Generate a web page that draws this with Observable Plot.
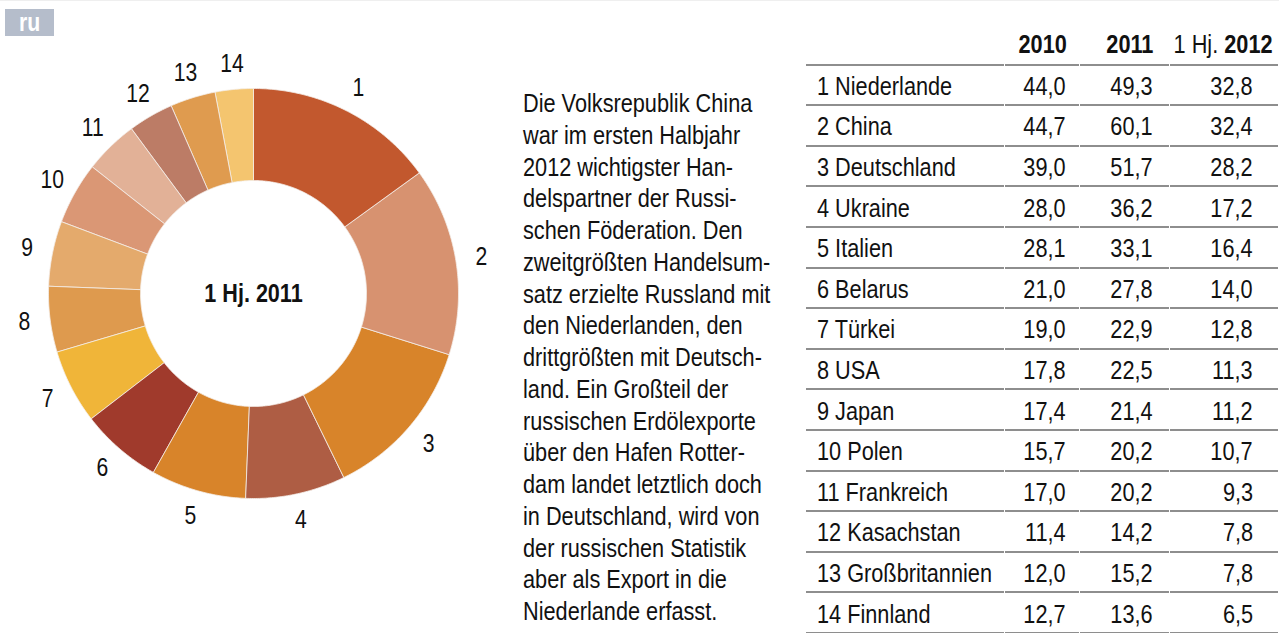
<!DOCTYPE html>
<html>
<head>
<meta charset="utf-8">
<script src="https://cdn.jsdelivr.net/npm/d3@7"></script>
<script src="https://cdn.jsdelivr.net/npm/@observablehq/plot@0.6"></script>
<style>
  html, body { margin: 0; padding: 0; background: #fff; overflow: hidden; }
  #page { position: relative; width: 1279px; height: 633px; overflow: hidden;
    font-family: "Liberation Sans", Arial, sans-serif; color: #111; }
  #topline { position: absolute; left: 0; top: 0; width: 1279px; height: 1px; background: #efefef; }
  #badge { position: absolute; left: 5px; top: 9px; width: 49px; height: 27px; background: #b5bdcb;
    color: #fff; font-weight: bold; font-size: 25px; line-height: 27px; text-align: center; }
  #badge span { display: inline-block; transform: scaleX(0.85); }
  #chart { position: absolute; left: 0; top: 0; }
  #para { position: absolute; left: 523px; top: 88px; font-size: 26px; line-height: 31.75px; white-space: nowrap;
    transform: scaleX(0.835); transform-origin: left top; }
  #table { position: absolute; left: 806px; top: 25px; width: 473px; font-size: 26px; white-space: nowrap; }
  .row { display: flex; height: 40.6px; }
  .cell { flex: none; box-sizing: border-box; height: 40.6px; border-bottom: 2px solid #8e8e8e; margin-right: 1px;
    display: flex; align-items: center; padding-top: 3px; }
  .cell span { display: inline-block; transform: scaleX(0.835); transform-origin: right center; flex: none; }
  .c0 span { transform-origin: left center; }
  .c0 { width: 198px; padding-left: 11px; }
  .c1 { width: 74px; justify-content: flex-end; padding-right: 13px; }
  .c2 { width: 89px; justify-content: flex-end; padding-right: 16px; }
  .c3 { width: 108px; justify-content: flex-end; padding-right: 25px; margin-right: 0; }
  .hdr .cell { padding-top: 0; }
  .hdr .c1 { padding-right: 12px; }
  .hdr .c2 { padding-right: 16px; }
  .hdr .c3 { padding-right: 5px; }
</style>
</head>
<body>
<div id="page">
  <div id="topline"></div>
  <div id="chart"></div>
  <div id="badge"><span>ru</span></div>
  <div id="para"></div>
  <div id="table"></div>
</div>
<script>
// ---- data ----
const countries = ["Niederlande", "China", "Deutschland", "Ukraine", "Italien", "Belarus", "Türkei",
  "USA", "Japan", "Polen", "Frankreich", "Kasachstan", "Großbritannien", "Finnland"];
const values2010 = [44.0, 44.7, 39.0, 28.0, 28.1, 21.0, 19.0, 17.8, 17.4, 15.7, 17.0, 11.4, 12.0, 12.7];
const values2011 = [49.3, 60.1, 51.7, 36.2, 33.1, 27.8, 22.9, 22.5, 21.4, 20.2, 20.2, 14.2, 15.2, 13.6];
const valuesH2012 = [32.8, 32.4, 28.2, 17.2, 16.4, 14.0, 12.8, 11.3, 11.2, 10.7, 9.3, 7.8, 7.8, 6.5];
const sliceColors = ["#c2582e", "#d79270", "#d8842a", "#ae5d44", "#d8842a", "#a03a2c", "#f0b539",
  "#de9a4e", "#e4aa6c", "#da9775", "#e2b197", "#bc7c66", "#df9b4f", "#f4c56f"];
const centerLabel = "1 Hj. 2011";
const headerYears = ["2010", "2011", "2012"];
const headerPrefix = "1 Hj.";
const paragraphLines = [
  "Die Volksrepublik China",
  "war im ersten Halbjahr",
  "2012 wichtigster Han-",
  "delspartner der Russi-",
  "schen Föderation. Den",
  "zweitgrößten Handelsum-",
  "satz erzielte Russland mit",
  "den Niederlanden, den",
  "drittgrößten mit Deutsch-",
  "land. Ein Großteil der",
  "russischen Erdölexporte",
  "über den Hafen Rotter-",
  "dam landet letztlich doch",
  "in Deutschland, wird von",
  "der russischen Statistik",
  "aber als Export in die",
  "Niederlande erfasst."
];

// ---- donut geometry (data space, y up, centre at 0,0) ----
const R_OUT = 205, R_IN = 113, R_LABEL = 231;
const names = countries.map((c, i) => `${i + 1} ${c}`);
const arcs = d3.pie().sort(null).value(d => d)(valuesH2012);
const polyPoints = [];
arcs.forEach((a, i) => {
  const n = Math.max(4, Math.ceil((a.endAngle - a.startAngle) / 0.01));
  for (let k = 0; k <= n; k++) {
    const t = a.startAngle + (a.endAngle - a.startAngle) * k / n;
    polyPoints.push({name: names[i], x: R_OUT * Math.sin(t), y: R_OUT * Math.cos(t)});
  }
  for (let k = n; k >= 0; k--) {
    const t = a.startAngle + (a.endAngle - a.startAngle) * k / n;
    polyPoints.push({name: names[i], x: R_IN * Math.sin(t), y: R_IN * Math.cos(t)});
  }
});
const labelPoints = arcs.map((a, i) => {
  const m = (a.startAngle + a.endAngle) / 2;
  return {label: String(i + 1), x: R_LABEL * Math.sin(m), y: R_LABEL * Math.cos(m)};
});

const chart = Plot.plot({
  width: 510,
  height: 633,
  margin: 0,
  x: {domain: [-253, 257], axis: null},
  y: {domain: [-340, 293], axis: null},
  color: {domain: names, range: sliceColors},
  style: {fontFamily: '"Liberation Sans", Arial, sans-serif', color: "#111", background: "transparent"},
  marks: [
    Plot.line(polyPoints, {x: "x", y: "y", z: "name", fill: "name", stroke: "#f4eee8", strokeWidth: 0.8, curve: "linear-closed"}),
    Plot.text(labelPoints, {x: "x", y: "y", text: "label", fontSize: 25.5, textAnchor: "middle", lineAnchor: "middle", fill: "#111"}),
    Plot.text([centerLabel], {x: 0, y: 0, text: d => d, fontSize: 26, fontWeight: "bold", textAnchor: "middle", lineAnchor: "middle", fill: "#111"})
  ]
});
// condensed look: squeeze text glyphs horizontally about their anchor
d3.select(chart).selectAll("text").each(function () {
  const t = this.getAttribute("transform");
  if (t && t.includes("translate")) this.setAttribute("transform", t + " scale(0.83,1)");
});
document.getElementById("chart").appendChild(chart);

// ---- paragraph ----
document.getElementById("para").innerHTML = paragraphLines.join("<br>");

// ---- table ----
const fmt = v => v.toFixed(1).replace(".", ",");
let html = `<div class="row hdr"><div class="cell c0"></div>` +
  `<div class="cell c1"><span><b>${headerYears[0]}</b></span></div>` +
  `<div class="cell c2"><span><b>${headerYears[1]}</b></span></div>` +
  `<div class="cell c3"><span>${headerPrefix} <b>${headerYears[2]}</b></span></div></div>`;
countries.forEach((c, i) => {
  html += `<div class="row"><div class="cell c0"><span>${names[i]}</span></div>` +
    `<div class="cell c1"><span>${fmt(values2010[i])}</span></div>` +
    `<div class="cell c2"><span>${fmt(values2011[i])}</span></div>` +
    `<div class="cell c3"><span>${fmt(valuesH2012[i])}</span></div></div>`;
});
document.getElementById("table").innerHTML = html;
</script>
</body>
</html>
